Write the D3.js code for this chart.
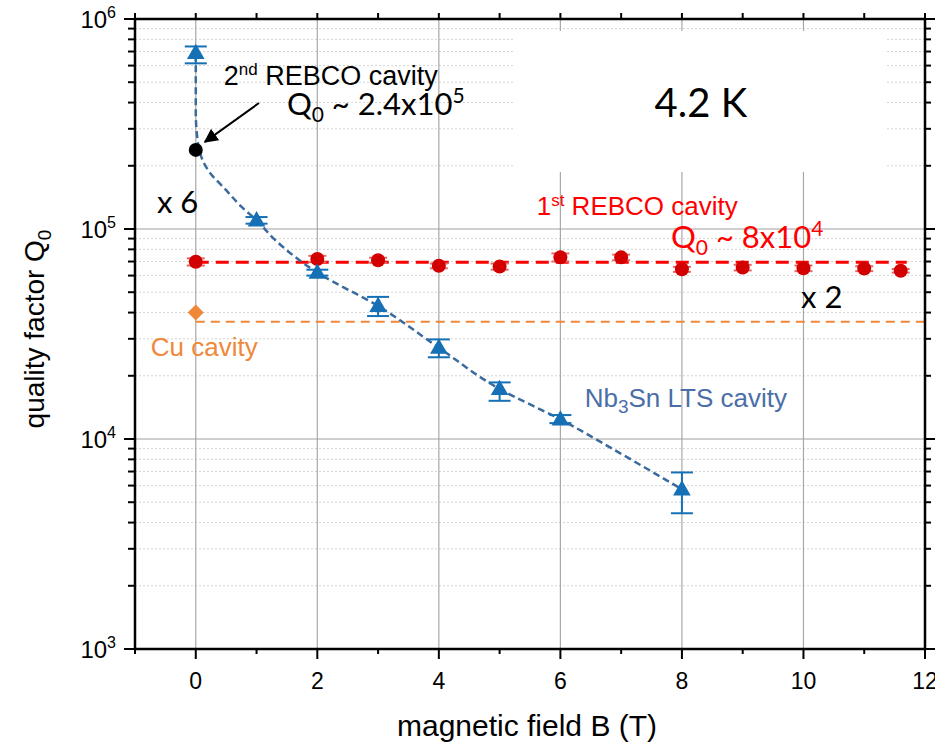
<!DOCTYPE html>
<html>
<head>
<meta charset="utf-8">
<script src="https://cdn.jsdelivr.net/npm/d3@7"></script>
<style>
  body { margin: 0; background: #fff; }
  svg { display: block; }
</style>
</head>
<body>
<svg id="viz" width="935" height="745"></svg>
<script>
// Data

var xTicks = [0, 2, 4, 6, 8, 10, 12];
var yTicks = [1e3, 1e4, 1e5, 1e6];

// Nb3Sn LTS cavity (blue triangles with error bars)
var nbB  = [0, 1, 2, 3, 4, 5, 6, 8];
var nbQ  = [6.9e5, 1.10e5, 6.2e4, 4.3e4, 2.72e4, 1.73e4, 1.24e4, 5.76e3];
var nbLo = [6.15e5, 1.06e5, 6.0e4, 3.85e4, 2.45e4, 1.52e4, 1.19e4, 4.43e3];
var nbHi = [7.4e5, 1.14e5, 6.4e4, 4.75e4, 2.98e4, 1.86e4, 1.30e4, 6.93e3];

// dashed guide through the Nb3Sn points
var fitB = [0, 0, 0, 0.03, 0.07, 0.2, 0.5, 0.76, 1, 1.3, 2, 3, 4, 5, 6, 7, 8];
var fitQ = [6.8e5, 5.1e5, 3.6e5, 2.65e5, 2.3e5, 1.91e5, 1.53e5, 1.27e5, 1.10e5, 8.9e4, 6.2e4, 4.3e4, 2.72e4, 1.73e4, 1.24e4, 8.5e3, 5.76e3];

// 1st REBCO cavity (red circles)
var reB  = [0, 2, 3, 4, 5, 6, 7, 8, 9, 10, 11, 11.6];
var reQ  = [6.98e4, 7.2e4, 7.1e4, 6.68e4, 6.62e4, 7.33e4, 7.33e4, 6.43e4, 6.55e4, 6.5e4, 6.48e4, 6.33e4];
var reLo = [6.7e4, 6.95e4, 6.9e4, 6.5e4, 6.4e4, 7.0e4, 7.1e4, 6.25e4, 6.35e4, 6.3e4, 6.3e4, 6.2e4];
var reHi = [7.25e4, 7.45e4, 7.3e4, 6.85e4, 6.85e4, 7.65e4, 7.55e4, 6.6e4, 6.75e4, 6.7e4, 6.65e4, 6.45e4];
var reLineB = [0, 11.7];
var reLineQ = [6.94e4, 6.94e4];

// Cu cavity (orange diamond)
var cuB = [0];
var cuQ = [4.0e4];
var cuLineB = [0, 12];
var cuLineQ = [3.62e4, 3.62e4];

// 2nd REBCO cavity (black point)
var re2B = [0];
var re2Q = [2.38e5];

// Set up the chart area

var svg = d3.select("#viz"),
    width = +svg.attr("width"),
    height = +svg.attr("height");

var margin = {left: 135, right: 10, top: 19, bottom: 96};

var x = d3.scaleLinear().domain([-1, 12]).range([margin.left, width - margin.right]);
var y = d3.scaleLog().domain([1e3, 1e6]).range([height - margin.bottom, margin.top]);

var arial = "'Liberation Sans', Arial, sans-serif";
var calib = "Lato, 'Open Sans', sans-serif";

var minorY = [];
[1e3, 1e4, 1e5].forEach(d => { for (var k = 2; k <= 9; k++) minorY.push(d * k); });

// Grid

var grid = svg.append("g").attr("class", "grid");

grid.selectAll("line.minor")
    .data(minorY)
    .enter().append("line")
      .attr("x1", x(-1)).attr("x2", x(12))
      .attr("y1", d => y(d)).attr("y2", d => y(d))
      .style("stroke", "#d4d4d4")
      .style("stroke-dasharray", "2,2")
      .attr("stroke-width", 1);

grid.selectAll("line.vx")
    .data(xTicks.filter(d => d < 12))
    .enter().append("line")
      .attr("x1", d => x(d)).attr("x2", d => x(d))
      .attr("y1", y(1e3)).attr("y2", y(1e6))
      .style("stroke", "#a8a8a8")
      .attr("stroke-width", 1.2);

grid.selectAll("line.hy")
    .data([1e4, 1e5])
    .enter().append("line")
      .attr("x1", x(-1)).attr("x2", x(12))
      .attr("y1", d => y(d)).attr("y2", d => y(d))
      .style("stroke", "#a0a0a0")
      .attr("stroke-width", 1.2);

// white panel behind the temperature label
svg.append("rect")
    .attr("x", x(5.22)).attr("y", y(8.77e5))
    .attr("width", x(11.34) - x(5.22))
    .attr("height", y(1.87e5) - y(8.77e5))
    .attr("fill", "#fff");

// Lines

var line = d3.line().x(d => x(d[0])).y(d => y(d[1]));

svg.append("path")
    .datum(cuLineB.map((b, i) => [b, cuLineQ[i]]))
    .attr("d", line)
    .attr("fill", "none")
    .style("stroke", "#f0883a")
    .attr("stroke-width", 2)
    .style("stroke-dasharray", "9,6");

svg.append("path")
    .datum(reLineB.map((b, i) => [b, reLineQ[i]]))
    .attr("d", line)
    .attr("fill", "none")
    .style("stroke", "#ff0000")
    .attr("stroke-width", 3)
    .style("stroke-dasharray", "13,7");

// Error bars

function errBars(B, lo, hi, cap, colour, sw) {
  var g = svg.append("g").style("stroke", colour).attr("stroke-width", sw);
  B.forEach((b, i) => {
    g.append("line").attr("x1", x(b)).attr("x2", x(b)).attr("y1", y(lo[i])).attr("y2", y(hi[i]));
    g.append("line").attr("x1", x(b) - cap).attr("x2", x(b) + cap).attr("y1", y(lo[i])).attr("y2", y(lo[i]));
    g.append("line").attr("x1", x(b) - cap).attr("x2", x(b) + cap).attr("y1", y(hi[i])).attr("y2", y(hi[i]));
  });
}

errBars(reB, reLo, reHi, 9, "#e46a6a", 2);

svg.selectAll("circle.re")
    .data(reB)
    .enter().append("circle")
      .attr("cx", d => x(d))
      .attr("cy", (d, i) => y(reQ[i]))
      .attr("r", 7)
      .attr("fill", "#d20000");

// Nb3Sn guide curve

svg.append("path")
    .datum(fitB.map((b, i) => [b, fitQ[i]]))
    .attr("d", d3.line().x(d => x(d[0])).y(d => y(d[1])).curve(d3.curveMonotoneY))
    .attr("fill", "none")
    .style("stroke", "#3a6b9c")
    .attr("stroke-width", 2.5)
    .style("stroke-dasharray", "7,4");

errBars(nbB, nbLo, nbHi, 11, "#1670b5", 2);

var tri = d3.symbol().type(d3.symbolTriangle).size(135);
svg.selectAll("path.nb")
    .data(nbB)
    .enter().append("path")
      .attr("d", tri)
      .attr("transform", (d, i) => "translate(" + x(d) + "," + (y(nbQ[i]) + 1) + ")")
      .attr("fill", "#1670b5");

var dia = d3.symbol().type(d3.symbolSquare).size(128);
svg.selectAll("path.cu")
    .data(cuB)
    .enter().append("path")
      .attr("d", dia)
      .attr("transform", (d, i) => "translate(" + x(d) + "," + y(cuQ[i]) + ") rotate(45)")
      .attr("fill", "#f0883a");

svg.selectAll("circle.re2")
    .data(re2B)
    .enter().append("circle")
      .attr("cx", d => x(d))
      .attr("cy", (d, i) => y(re2Q[i]))
      .attr("r", 7)
      .attr("fill", "#000");

// Frame and ticks

var frame = svg.append("g").style("stroke", "#000");

frame.append("rect")
    .attr("x", x(-1)).attr("y", y(1e6))
    .attr("width", x(12) - x(-1)).attr("height", y(1e3) - y(1e6))
    .attr("fill", "none")
    .attr("stroke-width", 2.5);

var xInts = d3.range(-1, 13);
frame.selectAll("line.bt")
    .data(xInts)
    .enter().append("line")
      .attr("x1", d => x(d)).attr("x2", d => x(d))
      .attr("y1", y(1e3)).attr("y2", d => y(1e3) + (d % 2 === 0 ? 10 : 5))
      .attr("stroke-width", 2);

frame.selectAll("line.tt")
    .data(xInts)
    .enter().append("line")
      .attr("x1", d => x(d)).attr("x2", d => x(d))
      .attr("y1", y(1e6)).attr("y2", y(1e6) - 6)
      .attr("stroke-width", 2);

frame.selectAll("line.lt")
    .data(yTicks.concat(minorY))
    .enter().append("line")
      .attr("x1", x(-1)).attr("x2", d => x(-1) - (yTicks.indexOf(d) >= 0 ? 11 : 7))
      .attr("y1", d => y(d)).attr("y2", d => y(d))
      .attr("stroke-width", 2);

frame.selectAll("line.rt")
    .data(yTicks.concat(minorY))
    .enter().append("line")
      .attr("x1", x(12)).attr("x2", d => x(12) + (yTicks.indexOf(d) >= 0 ? 10 : 6))
      .attr("y1", d => y(d)).attr("y2", d => y(d))
      .attr("stroke-width", 2);

// Tick labels

svg.selectAll("text.xl")
    .data(xTicks)
    .enter().append("text")
      .attr("x", d => x(d))
      .attr("y", y(1e3) + 40)
      .attr("text-anchor", "middle")
      .style("font-family", arial)
      .style("font-size", "23px")
      .text(d => d);

var yl = svg.selectAll("text.yl")
    .data(yTicks)
    .enter().append("text")
      .attr("x", x(-1) - 19)
      .attr("y", d => y(d) + 9)
      .attr("text-anchor", "end")
      .style("font-family", arial)
      .style("font-size", "24px");
yl.append("tspan").text("10");
yl.append("tspan").attr("dy", -10).style("font-size", "16px").text(d => Math.round(Math.log10(d)));

// Axis titles

svg.append("text")
    .attr("x", (x(-1) + x(12)) / 2 - 3)
    .attr("y", height - 9)
    .attr("text-anchor", "middle")
    .style("font-family", arial)
    .style("font-size", "30px")
    .text("magnetic field B (T)");

var yt = svg.append("text")
    .attr("transform", "translate(44," + ((y(1e3) + y(1e6)) / 2 - 5) + ") rotate(-90)")
    .attr("text-anchor", "middle")
    .style("font-family", arial)
    .style("font-size", "28px");
yt.append("tspan").text("quality factor Q");
yt.append("tspan").attr("dy", 7).style("font-size", "19px").text("0");

// Annotations

function label(b, q, size, family, colour) {
  return svg.append("text")
      .attr("x", x(b)).attr("y", y(q))
      .style("font-family", family)
      .style("font-size", size + "px")
      .attr("fill", colour);
}

var t1 = label(0.46, 4.85e5, 27, arial, "#000");
t1.append("tspan").text("2");
t1.append("tspan").attr("dy", -10).style("font-size", "17px").text("nd");
t1.append("tspan").attr("dy", 10).text(" REBCO cavity");

var t2 = label(1.5, 3.5e5, 31, calib, "#000");
t2.append("tspan").text("Q");
t2.append("tspan").attr("dy", 7).style("font-size", "21px").text("0");
t2.append("tspan").attr("dy", -7).text(" ~ 2.4x10");
t2.append("tspan").attr("dy", -12).style("font-size", "21px").text("5");

label(-0.64, 1.19e5, 31, calib, "#000").text("x 6");
label(7.55, 3.41e5, 40, calib, "#000").text("4.2 K");

var t3 = label(5.61, 1.17e5, 26, arial, "#ff0000");
t3.append("tspan").text("1");
t3.append("tspan").attr("dy", -9).style("font-size", "17px").text("st");
t3.append("tspan").attr("dy", 9).text(" REBCO cavity");

var t4 = label(7.82, 8.1e4, 31, calib, "#ff0000");
t4.append("tspan").text("Q");
t4.append("tspan").attr("dy", 7).style("font-size", "21px").text("0");
t4.append("tspan").attr("dy", -7).text(" ~ 8x10");
t4.append("tspan").attr("dy", -12).style("font-size", "21px").text("4");

label(9.96, 4.21e4, 31, calib, "#000").text("x 2");
label(-0.74, 2.48e4, 26, arial, "#f0883a").text("Cu cavity");

var t5 = label(6.4, 1.42e4, 26, arial, "#4a6ea8");
t5.append("tspan").text("Nb");
t5.append("tspan").attr("dy", 6).style("font-size", "19px").text("3");
t5.append("tspan").attr("dy", -6).text("Sn LTS cavity");

// Arrow to the 2nd REBCO point

svg.append("defs").append("marker")
    .attr("id", "head")
    .attr("viewBox", "0 0 10 10")
    .attr("refX", 9).attr("refY", 5)
    .attr("markerWidth", 7).attr("markerHeight", 7)
    .attr("markerUnits", "strokeWidth")
    .attr("orient", "auto")
  .append("path")
    .attr("d", "M0,0 L10,5 L0,10 z")
    .attr("fill", "#000");

svg.append("line")
    .attr("x1", x(1.04)).attr("y1", y(3.98e5))
    .attr("x2", x(0.15)).attr("y2", y(2.6e5))
    .style("stroke", "#000")
    .attr("stroke-width", 2)
    .attr("marker-end", "url(#head)");
</script>
</body>
</html>
